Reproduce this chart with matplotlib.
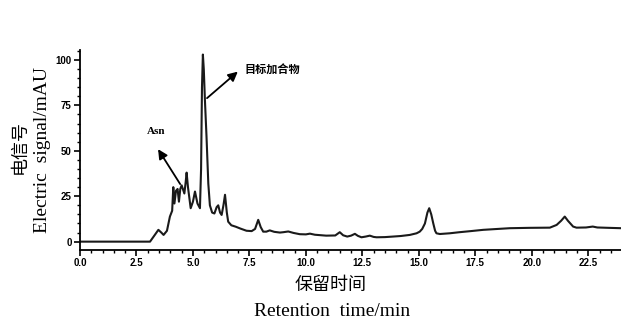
import matplotlib
matplotlib.use('Agg')
import matplotlib.pyplot as plt
from matplotlib.ticker import MultipleLocator, FormatStrFormatter

# chromatogram trace (retention time in min, signal in mAU)
time_min = [0.0, 3.1, 3.3, 3.47, 3.6, 3.7, 3.85, 3.98, 4.08, 4.13, 4.18, 4.25, 4.32, 4.38,
            4.44, 4.5, 4.62, 4.68, 4.72, 4.78, 4.9, 5.0, 5.09, 5.2, 5.31, 5.36, 5.4, 5.44,
            5.48, 5.53, 5.6, 5.68, 5.75, 5.85, 5.95, 6.05, 6.12, 6.2, 6.27, 6.35, 6.42, 6.5,
            6.56, 6.7, 6.9, 7.1, 7.37, 7.6, 7.75, 7.89, 8.0, 8.11, 8.25, 8.4, 8.6, 8.85, 9.0,
            9.22, 9.45, 9.73, 10.0, 10.18, 10.4, 10.9, 11.3, 11.5, 11.65, 11.83, 12.0, 12.17,
            12.3, 12.46, 12.65, 12.83, 13.0, 13.13, 13.5, 13.86, 14.2, 14.6, 14.9, 15.04,
            15.15, 15.27, 15.38, 15.46, 15.55, 15.64, 15.72, 15.78, 15.93, 16.37, 16.8, 17.3,
            17.85, 18.5, 19.03, 19.9, 20.8, 21.1, 21.3, 21.46, 21.6, 21.83, 21.98, 22.4, 22.7,
            22.9, 23.4, 23.95]
signal = [0, 0, 3.5, 6.5, 5, 3.7, 6, 13.8, 17, 30, 21, 28, 29, 22,
          29, 31, 26.5, 33, 38, 30, 18.4, 22, 27.6, 21, 18.4, 40, 85, 103,
          95, 78, 58, 32, 20, 16, 15.5, 19, 20, 16, 14.7, 20, 25.8, 16,
          11, 9, 8.2, 7.2, 6, 5.8, 7, 12, 8, 5.5, 5.5, 6.2, 5.4, 5, 5.2,
          5.6, 4.8, 4.1, 4.0, 4.4, 3.8, 3.3, 3.4, 5.2, 3.5, 2.8, 3.3, 4.3,
          3.2, 2.4, 2.8, 3.3, 2.6, 2.4, 2.5, 2.8, 3.1, 3.7, 4.6, 5.5,
          7, 10, 16, 18.4, 15, 10, 6, 4.6, 4.2, 4.6, 5.2, 5.8,
          6.5, 7, 7.4, 7.6, 7.7, 9.2, 11.5, 13.8, 11.5, 8.3, 7.7, 7.8, 8.3,
          7.8, 7.6, 7.4]

fig = plt.figure(figsize=(6.21, 3.2), dpi=100)
ax = fig.add_axes([80 / 621, 1 - 250 / 320, 541 / 621, 200 / 320])

ax.plot(time_min, signal, color='#1a1a1a', lw=1.5)

ax.set_xlim(0, 23.95)
ax.set_ylim(-4.6, 105.5)
ax.spines['top'].set_visible(False)
ax.spines['right'].set_visible(False)
for s in ('left', 'bottom'):
    ax.spines[s].set_linewidth(1.3)

ax.xaxis.set_major_locator(MultipleLocator(2.5))
ax.xaxis.set_minor_locator(MultipleLocator(0.5))
ax.xaxis.set_major_formatter(FormatStrFormatter('%.1f'))
ax.yaxis.set_major_locator(MultipleLocator(25))
ax.yaxis.set_minor_locator(MultipleLocator(5))
ax.tick_params(which='major', direction='out', length=4, width=1.2, pad=2)
ax.tick_params(which='minor', direction='out', length=2.5, width=1.0)
for lab in ax.get_xticklabels() + ax.get_yticklabels():
    lab.set_fontfamily('Liberation Sans')
    lab.set_fontweight('bold')
    lab.set_fontsize(7)

# annotations
ax.annotate('', xy=(3.39, 52.2), xytext=(4.5, 30.4),
            arrowprops=dict(arrowstyle='-|>', color='black', lw=1.3, mutation_scale=14))
ax.text(3.35, 60.8, 'Asn', ha='center', va='center', fontsize=8,
        fontweight='bold', family='Liberation Serif')
ax.annotate('', xy=(7.08, 94.6), xytext=(5.53, 78),
            arrowprops=dict(arrowstyle='-|>', color='black', lw=1.3, mutation_scale=14))
ax.text(7.3, 94.5, '目标加合物', ha='left', va='center', fontsize=8,
        fontweight='bold', family=['Noto Sans CJK SC', 'DejaVu Sans'])

# axis titles: Chinese line and English line
fig.text(20 / 621, 1 - 147 / 320, '电信号', rotation=90, ha='center', va='center',
         fontsize=13, family=['Noto Sans CJK SC', 'DejaVu Sans'])
fig.text(43 / 621, 1 - 150 / 320, 'Electric  signal/mAU', rotation=90, ha='center',
         va='center', fontsize=14, family='Liberation Serif')
fig.text(331 / 621, 1 - 285 / 320, '保留时间', ha='center', va='center',
         fontsize=13, family=['Noto Sans CJK SC', 'DejaVu Sans'])
fig.text(332 / 621, 1 - 311 / 320, 'Retention  time/min', ha='center', va='center',
         fontsize=14, family='Liberation Serif')

fig.savefig('out.png', dpi=100)
